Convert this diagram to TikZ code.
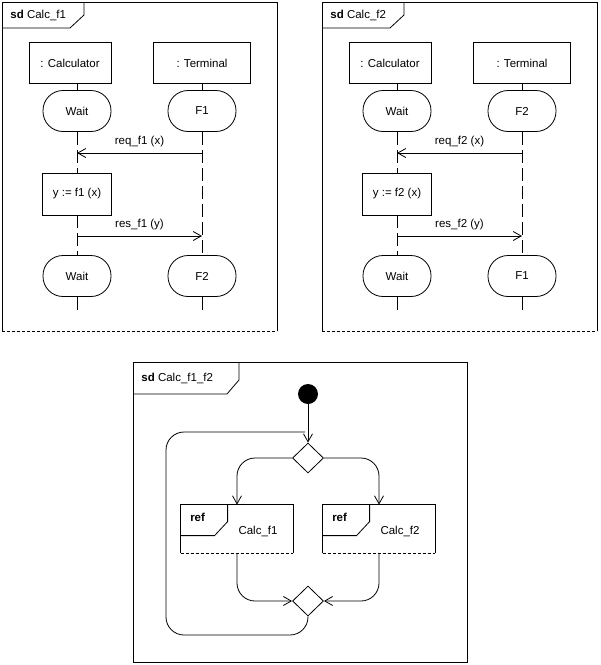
\documentclass[tikz,border=0pt]{standalone}
\usepackage{fontspec}
\setmainfont{Liberation Sans}
\usetikzlibrary{arrows.meta,shapes.geometric}
\begin{document}
\begin{tikzpicture}[x=1pt,y=-1pt,line width=0.8pt,
  font=\fontsize{11.5}{13}\selectfont,
  lifebox/.style={draw,minimum width=82pt,minimum height=41pt,inner sep=0pt},
  state/.style={draw,rounded corners=20pt,minimum width=68pt,minimum height=41pt,inner sep=0pt},
  act/.style={draw,minimum width=69pt,minimum height=42pt,inner sep=0pt},
  life/.style={dash pattern=on 13pt off 5pt},
  msg/.style={-{Straight Barb[length=8pt,width=9pt]}},
  flow/.style={-{Straight Barb[length=8pt,width=9pt]},rounded corners=18pt},
  dia/.style={draw,minimum width=31pt,minimum height=30pt,inner sep=0pt,shape=diamond}]
\useasboundingbox (0,0) rectangle (601,665);
\foreach \ox/\f/\sa/\sb in {0/1/F1/F2,320/2/F2/F1}{
\begin{scope}[xshift=\ox pt, name prefix=S\f-]
  \draw (2,331) -- (2,2) -- (277,2) -- (277,331);
  \draw[densely dashed] (2,331) -- (277,331);
  \draw (2,28) -- (70,28) -- (84,15) -- (84,2);
  \node[anchor=west,inner sep=0pt] (title) at (10,15) {\textbf{sd} Calc\_f\f};
  \node[lifebox] (calc) at (70,63) {: Calculator};
  \node[lifebox,minimum width=97pt] (term) at (202,63) {: Terminal};
  \node[state] (w1) at (77,111) {Wait};
  \node[state] (t1) at (202,111) {\sa};
  \node[act] (a) at (77,194) {y := f\f{} (x)};
  \node[state] (w2) at (77,276) {Wait};
  \node[state] (t2) at (202,276) {\sb};
  \coordinate (cend) at (77,314);
  \coordinate (tend) at (202,314);
  \coordinate (q0) at (202,153); \coordinate (q1) at (77,153);
  \coordinate (r0) at (77,236); \coordinate (r1) at (202,236);
  \draw (calc.south -| 77,0) -- (w1.north);
  \draw (term) -- (t1);
  \draw[life] (w1) -- (a);
  \draw[life] (a) -- (w2);
  \draw[life] (w2) -- (cend);
  \draw[life] (t1) -- (t2);
  \draw[life] (t2) -- (tend);
  \draw[msg] (q0) -- node[above=2pt] {req\_f\f{} (x)} (q1);
  \draw[msg] (r0) -- node[above=2pt] {res\_f\f{} (y)} (r1);
\end{scope}}
% bottom frame
\draw (133,662) rectangle (467,362);
\draw (133,394) -- (227,394) -- (239,380) -- (239,362);
\node[anchor=west,inner sep=0pt] (bt) at (141,378) {\textbf{sd} Calc\_f1\_f2};
\node[circle,fill,minimum size=20pt,inner sep=0pt] (init) at (308,394) {};
\node[dia] (dec) at (308,458) {};
\node[dia] (mer) at (308,601) {};
\foreach \n/\x/\t in {r1/237/Calc\_f1,r2/379/Calc\_f2}{
  \node[minimum width=112pt,minimum height=48pt,inner sep=0pt] (\n) at (\x,529) {};
  \draw (\n.south west) -- (\n.north west) -- (\n.north east) -- (\n.south east);
  \draw[densely dashed] (\n.south west) -- (\n.south east);
  \draw ([yshift=-31pt]\n.north west) -- ++(34,0) -- ++(13,-14) -- ([xshift=47pt]\n.north west);
  \node[font=\fontsize{11.5}{13}\selectfont\bfseries] at ([xshift=17pt,yshift=-13pt]\n.north west) {ref};
  \node at ([xshift=21pt,yshift=-2pt]\n.center) {\t};
}
\draw[msg] (init) -- (dec);
\draw[flow] (dec.west) -| (r1.north);
\draw[flow] (dec.east) -| (r2.north);
\draw[flow] (r1.south) |- (mer.west);
\draw[flow] (r2.south) |- (mer.east);
\coordinate (lp1) at (308,635);
\coordinate (lp2) at (166,635);
\coordinate (lp3) at (166,432);
\coordinate (lp4) at (308,432);
\draw[rounded corners=18pt] (mer.south) -- (lp1) -- (lp2) -- (lp3) -- ([xshift=-3pt]lp4);
\end{tikzpicture}
\end{document}
